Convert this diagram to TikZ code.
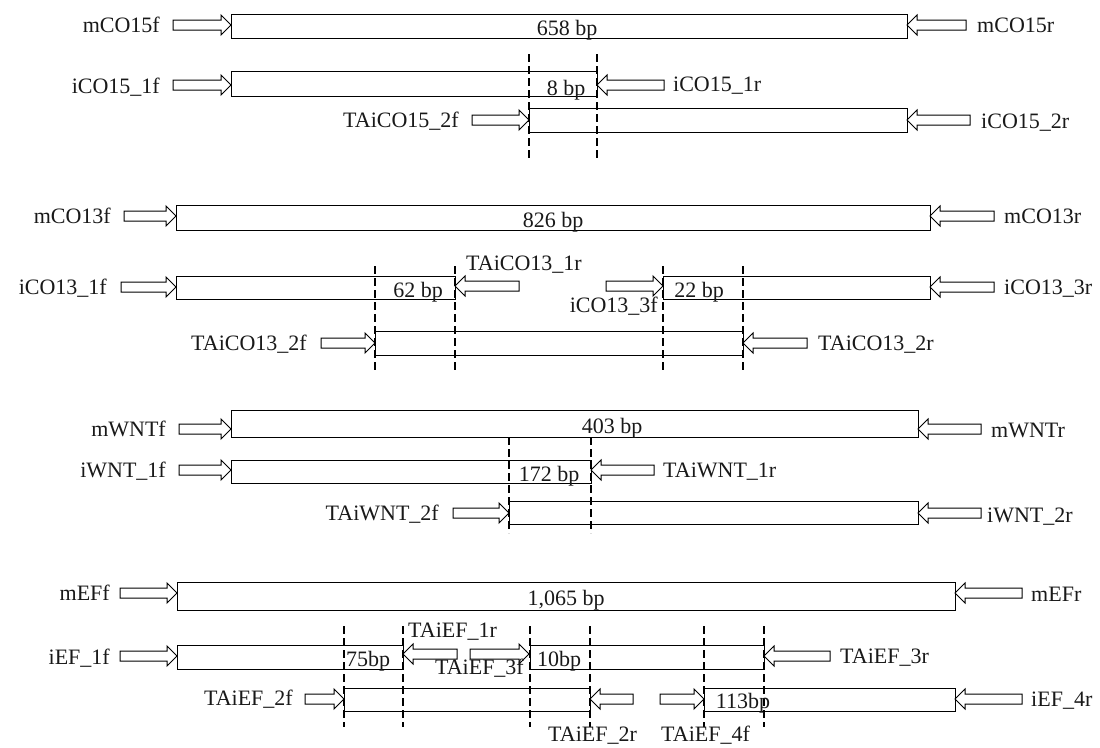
\documentclass[tikz,border=0pt]{standalone}
\usepackage{fontspec}
\setmainfont{Liberation Serif}
\tikzset{
  seg/.style={draw=black, line width=1pt},
  primer/.style={draw=black, fill=white, line width=1pt, line join=miter},
  cutline/.style={draw=black, line width=1.9pt, dash pattern=on 8pt off 4pt},
  lab/.style={inner sep=0pt, text=black!90, font=\fontsize{22}{26}\selectfont},
}
% forward primer: tail x, tip x, y
\newcommand\pfwd[3]{\draw[primer] (#1,#3-5) -- (#2-10,#3-5) -- (#2-10,#3-10) -- (#2,#3) -- (#2-10,#3+10) -- (#2-10,#3+5) -- (#1,#3+5) -- cycle;}
% reverse primer: tail x, tip x, y
\newcommand\prev[3]{\draw[primer] (#1,#3-5) -- (#2+10,#3-5) -- (#2+10,#3-10) -- (#2,#3) -- (#2+10,#3+10) -- (#2+10,#3+5) -- (#1,#3+5) -- cycle;}
\begin{document}
\begin{tikzpicture}[x=1pt,y=-1pt]
\useasboundingbox[fill=white] (0,0) rectangle (1100,747);

% ================= Section 1: CO15 =================
\draw[seg] (231,14) rectangle (907,38);
\draw[seg] (231,71) rectangle (597,96);
\draw[seg] (529,108) rectangle (907,132);
\pfwd{173}{231}{25}
\prev{966}{907}{25}
\pfwd{173}{231}{85}
\prev{664}{597}{85}
\pfwd{472}{529}{120}
\prev{970}{907}{120}
\draw[cutline] (529,54) -- (529,158);
\draw[cutline] (597,54) -- (597,158);
\node[lab, anchor=base east] (a1) at (160,32) {mCO15f};
\node[lab, anchor=base west] (a2) at (977,32) {mCO15r};
\node[lab, anchor=base] (a3) at (567,35) {658 bp};
\node[lab, anchor=base east] (a4) at (160,93) {iCO15\_1f};
\node[lab, anchor=base west] (a5) at (673,91) {iCO15\_1r};
\node[lab, anchor=base] (a6) at (566,95) {8 bp};
\node[lab, anchor=base east] (a7) at (459,127) {TAiCO15\_2f};
\node[lab, anchor=base west] (a8) at (981,128) {iCO15\_2r};

% ================= Section 2: CO13 =================
\draw[seg] (176,205) rectangle (930,230);
\draw[seg] (176,276) rectangle (455,299);
\draw[seg] (663,276) rectangle (930,299);
\draw[seg] (375,331) rectangle (743,355);
\pfwd{124}{176}{216}
\prev{994}{930}{216}
\pfwd{121}{176}{287}
\prev{519}{455}{286}
\pfwd{606}{663}{286}
\prev{994}{930}{287}
\pfwd{321}{375}{343}
\prev{807}{743}{343}
\foreach \xx in {375,455,663,743} \draw[cutline] (\xx,266) -- (\xx,370);
\node[lab, anchor=base east] (b1) at (111,223) {mCO13f};
\node[lab, anchor=base west] (b2) at (1004,223) {mCO13r};
\node[lab, anchor=base] (b3) at (553,227) {826 bp};
\node[lab, anchor=base east] (b4) at (107,294) {iCO13\_1f};
\node[lab, anchor=base west] (b5) at (466,270) {TAiCO13\_1r};
\node[lab, anchor=base east] (b6) at (658,312) {iCO13\_3f};
\node[lab, anchor=base west] (b7) at (1004,294) {iCO13\_3r};
\node[lab, anchor=base] (b8) at (418,297) {62 bp};
\node[lab, anchor=base] (b9) at (699,297) {22 bp};
\node[lab, anchor=base east] (b10) at (307,350) {TAiCO13\_2f};
\node[lab, anchor=base west] (b11) at (818,350) {TAiCO13\_2r};

% ================= Section 3: WNT =================
\draw[seg] (231,410) rectangle (918,437);
\draw[seg] (231,460) rectangle (591,483);
\draw[seg] (509,501) rectangle (918,524);
\pfwd{179}{231}{429}
\prev{981}{918}{429}
\pfwd{179}{231}{470}
\prev{654}{591}{470}
\pfwd{453}{509}{513}
\prev{981}{918}{513}
\draw[cutline] (509,437) -- (509,533);
\draw[cutline] (591,437) -- (591,533);
\node[lab, anchor=base east] (c1) at (166,436) {mWNTf};
\node[lab, anchor=base west] (c2) at (991,437) {mWNTr};
\node[lab, anchor=base] (c3) at (612,433) {403 bp};
\node[lab, anchor=base east] (c4) at (166,477) {iWNT\_1f};
\node[lab, anchor=base west] (c5) at (663,477) {TAiWNT\_1r};
\node[lab, anchor=base] (c6) at (549,481) {172 bp};
\node[lab, anchor=base east] (c7) at (439,520) {TAiWNT\_2f};
\node[lab, anchor=base west] (c8) at (987,522) {iWNT\_2r};

% ================= Section 4: EF =================
\draw[seg] (177,582) rectangle (955,610);
\draw[seg] (177,645) rectangle (403,669);
\draw[seg] (530,645) rectangle (764,669);
\draw[seg] (344,688) rectangle (590,711);
\draw[seg] (704,688) rectangle (955,711);
\pfwd{120}{177}{593}
\prev{1022}{955}{593}
\pfwd{120}{177}{656}
\prev{457}{403}{654}
\pfwd{470}{529}{654}
\prev{830}{764}{656}
\pfwd{305}{344}{699}
\prev{633}{590}{699}
\pfwd{660}{704}{699}
\prev{1022}{955}{699}
\foreach \xx in {344,403,530,590,704,764} \draw[cutline] (\xx,626) -- (\xx,727);
\node[lab, anchor=base east] (d1) at (110,600) {mEFf};
\node[lab, anchor=base west] (d2) at (1031,601) {mEFr};
\node[lab, anchor=base] (d3) at (566,605) {1,065 bp};
\node[lab, anchor=base east] (d4) at (110,664) {iEF\_1f};
\node[lab, anchor=base west] (d5) at (408,637) {TAiEF\_1r};
\node[lab, anchor=base east] (d6) at (524,674) {TAiEF\_3f};
\node[lab, anchor=base west] (d7) at (840,663) {TAiEF\_3r};
\node[lab, anchor=base] (d8) at (368,666) {75bp};
\node[lab, anchor=base] (d9) at (559,666) {10bp};
\node[lab, anchor=base east] (d10) at (293,705) {TAiEF\_2f};
\node[lab, anchor=base west] (d11) at (548,741) {TAiEF\_2r};
\node[lab, anchor=base west] (d12) at (661,741) {TAiEF\_4f};
\node[lab, anchor=base west] (d13) at (1031,706) {iEF\_4r};
\node[lab, anchor=base] (d14) at (743,708) {113bp};
\end{tikzpicture}
\end{document}
